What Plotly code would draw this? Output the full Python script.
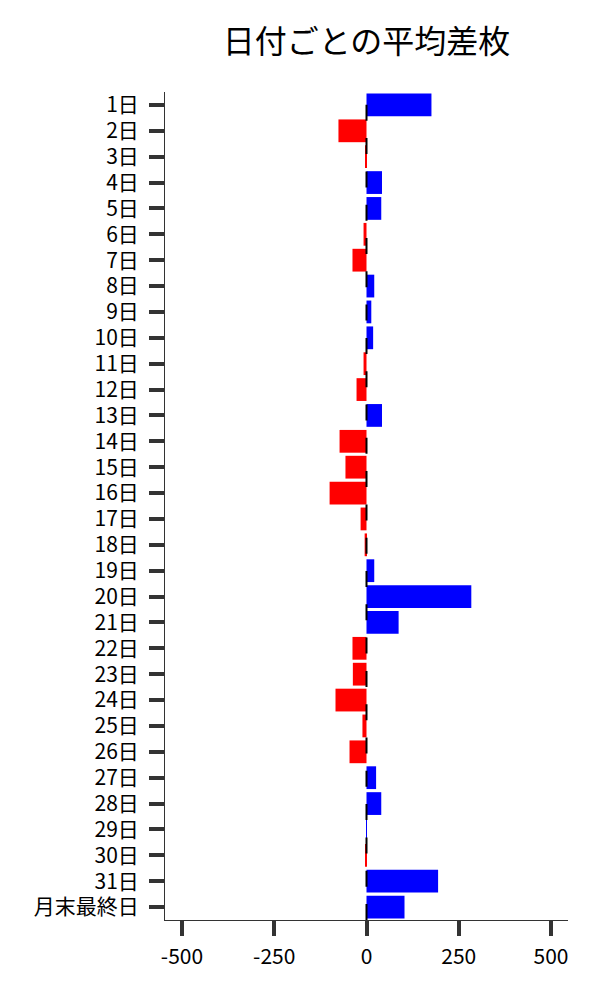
import plotly.graph_objects as go

days = [f"{i}日" for i in range(1, 32)] + ["月末最終日"]
values = [176, -76, -2, 42, 40, -8, -38, 21, 13, 18, -8, -27, 42, -73, -57, -100,
          -16, -5, 21, 284, 87, -38, -37, -84, -11, -46, 26, 40, 1, -4, 194, 103]
colors = ["#0000FF" if v >= 0 else "#FF0000" for v in values]
x_ticks = [-500, -250, 0, 250, 500]
title_text = "日付ごとの平均差枚"

fig = go.Figure(go.Bar(
    x=values, y=days, orientation="h",
    marker=dict(color=colors, line=dict(width=0)),
))

fig.add_shape(type="line", xref="x", yref="paper", x0=0, x1=0, y0=0, y1=1,
              line=dict(color="black", width=2, dash="16px,17.3px"))

font_family = "Noto Sans CJK JP"
fig.update_layout(
    width=600, height=1000,
    margin=dict(l=157, r=40, t=84, b=88, autoexpand=False),
    plot_bgcolor="white", paper_bgcolor="white",
    bargap=0.12,
    showlegend=False,
    font=dict(family=font_family, size=21, color="black"),
    title=dict(text=title_text, x=0.5, xref="paper", xanchor="center",
               y=1 - 34 / 1000, yref="container", yanchor="middle",
               font=dict(family=font_family, size=32, color="black")),
)
fig.update_xaxes(range=[-546, 546], tickvals=x_ticks, ticktext=[str(v) for v in x_ticks],
                 showgrid=False, zeroline=False, showline=True, linecolor="#333",
                 linewidth=1, ticks="outside", ticklen=15, tickwidth=4, tickcolor="#333",
                 tickfont=dict(size=21), ticklabelstandoff=3, automargin=False)
fig.update_yaxes(categoryorder="array", categoryarray=days, autorange="reversed",
                 showgrid=False, zeroline=False, showline=True, linecolor="#333",
                 linewidth=1, ticks="outside", ticklen=15, tickwidth=4, tickcolor="#333",
                 tickfont=dict(size=21), ticklabelstandoff=6, automargin=False)

fig.write_html("out.html")
